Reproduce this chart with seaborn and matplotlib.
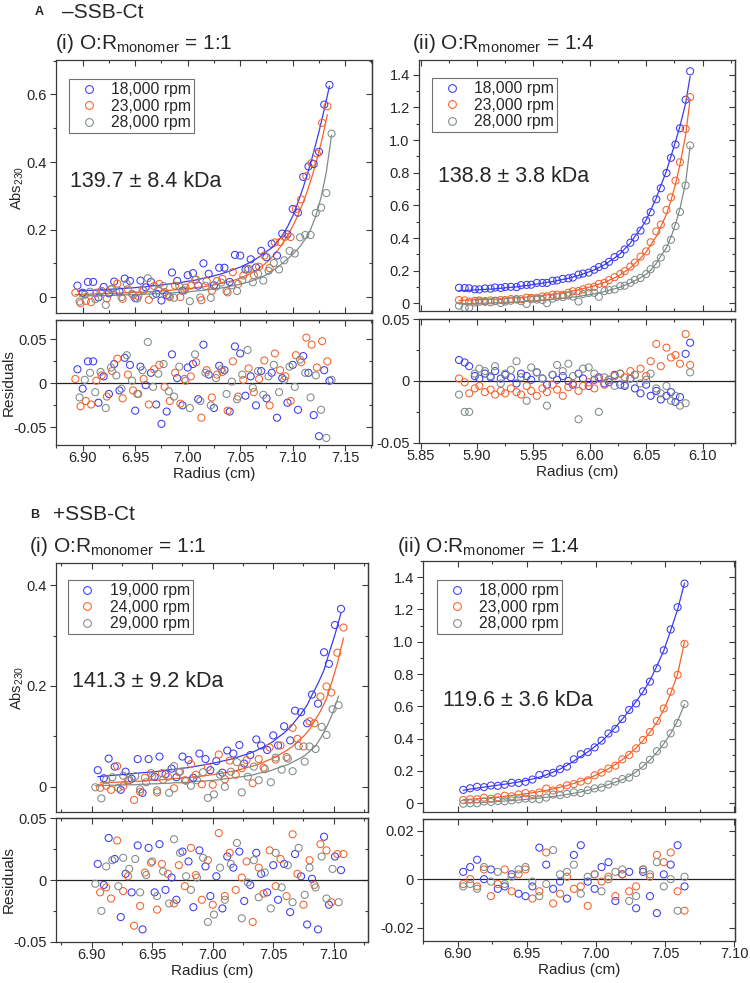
import numpy as np
import matplotlib
matplotlib.use('Agg')
import matplotlib.pyplot as plt
from matplotlib.lines import Line2D
from matplotlib.ticker import MultipleLocator
import seaborn as sns

# ---------------- data ----------------
# Panel A(i): -SSB-Ct, O:R = 1:1
a1_x_blue = [6.895, 6.900, 6.905, 6.910, 6.915, 6.920, 6.925, 6.930, 6.935, 6.940,
             6.945, 6.950, 6.955, 6.960, 6.965, 6.970, 6.975, 6.980, 6.985, 6.990,
             6.995, 7.000, 7.005, 7.010, 7.015, 7.020, 7.025, 7.030, 7.035, 7.040,
             7.045, 7.050, 7.055, 7.060, 7.065, 7.070, 7.075, 7.080, 7.085, 7.090,
             7.095, 7.100, 7.105, 7.110, 7.115, 7.120, 7.125, 7.130, 7.135]
a1_x_orange = [6.893, 6.898, 6.903, 6.908, 6.913, 6.918, 6.923, 6.928, 6.933, 6.938,
               6.943, 6.948, 6.953, 6.958, 6.963, 6.968, 6.973, 6.978, 6.983, 6.988,
               6.993, 6.998, 7.003, 7.008, 7.013, 7.018, 7.023, 7.028, 7.033, 7.038,
               7.043, 7.048, 7.053, 7.058, 7.063, 7.068, 7.073, 7.078, 7.083, 7.088,
               7.093, 7.098, 7.103, 7.108, 7.113, 7.118, 7.123, 7.128, 7.133]
a1_x_gray = [6.897, 6.902, 6.907, 6.912, 6.917, 6.922, 6.927, 6.932, 6.937, 6.942,
             6.947, 6.952, 6.957, 6.962, 6.967, 6.972, 6.977, 6.982, 6.987, 6.992,
             6.997, 7.002, 7.007, 7.012, 7.017, 7.022, 7.027, 7.032, 7.037, 7.042,
             7.047, 7.052, 7.057, 7.062, 7.067, 7.072, 7.077, 7.082, 7.087, 7.092,
             7.097, 7.102, 7.107, 7.112, 7.117, 7.122, 7.127, 7.132, 7.137]
a1_fit_blue = [0.018, 0.019, 0.020, 0.020, 0.021, 0.022, 0.023, 0.024, 0.025, 0.026,
               0.027, 0.028, 0.030, 0.031, 0.033, 0.034, 0.036, 0.038, 0.040, 0.042,
               0.044, 0.047, 0.049, 0.052, 0.056, 0.059, 0.063, 0.067, 0.072, 0.077,
               0.083, 0.089, 0.096, 0.104, 0.113, 0.123, 0.135, 0.146, 0.162, 0.182,
               0.208, 0.240, 0.280, 0.325, 0.375, 0.430, 0.490, 0.555, 0.625]
a1_fit_orange = [0.008, 0.008, 0.009, 0.009, 0.010, 0.010, 0.011, 0.011, 0.012, 0.012,
                 0.013, 0.014, 0.015, 0.015, 0.016, 0.017, 0.018, 0.019, 0.020, 0.022,
                 0.023, 0.025, 0.026, 0.028, 0.030, 0.032, 0.035, 0.038, 0.041, 0.045,
                 0.049, 0.054, 0.060, 0.067, 0.075, 0.085, 0.097, 0.111, 0.128, 0.148,
                 0.171, 0.198, 0.229, 0.265, 0.306, 0.353, 0.407, 0.468, 0.540]
a1_fit_gray = [0.003, 0.003, 0.004, 0.004, 0.004, 0.005, 0.005, 0.006, 0.006, 0.007,
               0.007, 0.008, 0.008, 0.009, 0.010, 0.010, 0.011, 0.012, 0.013, 0.014,
               0.015, 0.016, 0.018, 0.019, 0.021, 0.023, 0.025, 0.027, 0.030, 0.033,
               0.036, 0.040, 0.044, 0.049, 0.055, 0.062, 0.070, 0.080, 0.092, 0.105,
               0.118, 0.133, 0.150, 0.172, 0.200, 0.240, 0.295, 0.370, 0.480]
a1_res_blue = [0.016, -0.006, 0.025, 0.025, -0.022, 0.008, -0.012, 0.022, -0.008, 0.029,
               0.021, -0.031, 0.019, -0.002, 0.012, -0.024, -0.046, -0.032, 0.033, 0.006,
               -0.025, 0.018, 0.022, -0.018, 0.044, 0.010, -0.028, 0.020, 0.015, -0.032,
               0.042, 0.034, -0.014, 0.008, -0.025, 0.014, -0.017, 0.012, -0.039, 0.006,
               -0.022, 0.021, -0.030, 0.031, 0.012, -0.036, -0.060, 0.015, 0.003]
a1_res_orange = [0.005, -0.026, -0.020, -0.024, 0.003, 0.009, -0.015, 0.014, 0.028, -0.017,
                 0.010, -0.008, -0.012, 0.005, -0.024, 0.016, 0.021, -0.004, -0.020, 0.012,
                 -0.023, 0.003, 0.008, 0.024, -0.039, 0.015, -0.016, 0.010, 0.013, -0.031,
                 0.025, -0.015, 0.004, 0.017, -0.010, 0.005, 0.026, -0.025, 0.034, 0.015,
                 0.008, -0.020, 0.032, 0.024, 0.052, 0.044, 0.018, 0.048, 0.025]
a1_res_gray = [-0.016, 0.004, 0.012, -0.010, 0.013, -0.028, 0.018, 0.009, -0.006, 0.032,
               0.003, -0.012, 0.015, 0.047, -0.004, 0.011, 0.022, -0.009, -0.015, 0.019,
               0.005, -0.028, 0.033, -0.020, 0.012, -0.025, 0.006, 0.016, -0.012, 0.002,
               -0.018, 0.010, 0.038, -0.005, 0.014, -0.013, 0.008, 0.021, -0.010, 0.004,
               0.019, -0.004, 0.027, 0.012, -0.016, 0.009, -0.030, -0.062, 0.004]

# Panel A(ii): -SSB-Ct, O:R = 1:4
a2_x = [5.884, 5.889, 5.893, 5.898, 5.902, 5.907, 5.912, 5.916, 5.921, 5.925,
        5.930, 5.935, 5.939, 5.944, 5.948, 5.953, 5.958, 5.962, 5.967, 5.971,
        5.976, 5.981, 5.985, 5.990, 5.994, 5.999, 6.004, 6.008, 6.013, 6.017,
        6.022, 6.027, 6.031, 6.036, 6.040, 6.045, 6.050, 6.054, 6.059, 6.063,
        6.068, 6.072, 6.076, 6.080, 6.085, 6.089]
a2_fit_blue = [0.078, 0.079, 0.080, 0.082, 0.083, 0.085, 0.087, 0.089, 0.092, 0.095,
               0.098, 0.101, 0.105, 0.109, 0.113, 0.118, 0.123, 0.128, 0.133, 0.139,
               0.146, 0.153, 0.161, 0.170, 0.180, 0.192, 0.205, 0.219, 0.236, 0.255,
               0.278, 0.304, 0.334, 0.369, 0.409, 0.455, 0.510, 0.570, 0.645, 0.720,
               0.810, 0.900, 0.990, 1.085, 1.225, 1.390]
a2_fit_orange = [0.018, 0.019, 0.020, 0.021, 0.022, 0.023, 0.025, 0.026, 0.028, 0.030,
                 0.032, 0.034, 0.036, 0.039, 0.042, 0.045, 0.048, 0.052, 0.056, 0.060,
                 0.065, 0.070, 0.076, 0.083, 0.090, 0.098, 0.107, 0.117, 0.128, 0.141,
                 0.156, 0.174, 0.194, 0.217, 0.244, 0.276, 0.314, 0.358, 0.410, 0.470,
                 0.545, 0.630, 0.730, 0.850, 1.030, 1.250]
a2_fit_gray = [-0.004, -0.003, -0.002, -0.001, 0.000, 0.001, 0.002, 0.003, 0.004, 0.005,
               0.007, 0.008, 0.010, 0.012, 0.014, 0.016, 0.018, 0.021, 0.024, 0.027,
               0.030, 0.034, 0.038, 0.042, 0.047, 0.052, 0.058, 0.065, 0.072, 0.080,
               0.089, 0.099, 0.111, 0.124, 0.139, 0.157, 0.178, 0.203, 0.245, 0.290,
               0.340, 0.405, 0.485, 0.580, 0.740, 0.960]
a2_res_blue = [0.017, 0.015, 0.012, 0.004, 0.002, 0.006, 0.003, 0.008, 0.002, 0.005,
               0.003, -0.002, 0.006, 0.004, 0.001, 0.007, 0.002, -0.003, 0.005, 0.001,
               0.004, 0.000, -0.003, 0.006, 0.002, -0.004, 0.001, 0.003, -0.002, -0.001,
               0.005, -0.003, -0.004, 0.002, -0.006, -0.010, -0.003, -0.012, -0.008, -0.015,
               -0.012, -0.009, -0.017, -0.013, 0.022, 0.031]
a2_res_orange = [0.002, -0.001, -0.010, -0.006, -0.004, -0.009, -0.007, -0.011, -0.008, -0.010,
                 -0.006, -0.009, -0.011, -0.004, -0.008, -0.012, -0.006, -0.009, -0.003, -0.007,
                 -0.012, -0.005, -0.002, -0.008, -0.004, -0.001, -0.006, 0.002, -0.003, 0.001,
                 0.004, 0.006, 0.003, 0.008, 0.005, 0.010, 0.004, 0.016, 0.030, 0.012,
                 0.027, 0.019, 0.021, 0.014, 0.038, 0.013]
a2_res_gray = [-0.011, -0.025, -0.025, 0.006, 0.010, 0.008, 0.004, 0.012, -0.002, 0.006,
               0.009, 0.016, 0.003, -0.016, 0.011, 0.007, 0.002, -0.020, 0.005, 0.013,
               0.008, 0.014, 0.004, -0.031, 0.010, 0.011, 0.006, -0.025, 0.003, 0.001,
               -0.004, 0.006, -0.003, 0.002, 0.005, -0.002, 0.001, 0.006, -0.006, -0.010,
               -0.004, -0.016, -0.012, -0.020, -0.018, 0.007]

# Panel B(i): +SSB-Ct, O:R = 1:1
b1_x_blue = [6.905, 6.910, 6.914, 6.919, 6.924, 6.928, 6.933, 6.938, 6.942, 6.947,
             6.952, 6.956, 6.961, 6.966, 6.970, 6.975, 6.980, 6.984, 6.989, 6.994,
             6.998, 7.003, 7.008, 7.012, 7.017, 7.022, 7.026, 7.031, 7.036, 7.040,
             7.045, 7.050, 7.054, 7.059, 7.064, 7.068, 7.073, 7.078, 7.082, 7.087,
             7.092, 7.096, 7.101, 7.106]
b1_x_orange = [6.907, 6.912, 6.916, 6.921, 6.926, 6.930, 6.935, 6.940, 6.944, 6.949,
               6.954, 6.958, 6.963, 6.968, 6.972, 6.977, 6.982, 6.986, 6.991, 6.996,
               7.000, 7.005, 7.010, 7.014, 7.019, 7.024, 7.028, 7.033, 7.038, 7.042,
               7.047, 7.052, 7.056, 7.061, 7.066, 7.070, 7.075, 7.080, 7.084, 7.089,
               7.094, 7.098, 7.103, 7.108]
b1_x_gray = [6.903, 6.908, 6.912, 6.917, 6.922, 6.926, 6.931, 6.936, 6.940, 6.945,
             6.950, 6.954, 6.959, 6.964, 6.968, 6.973, 6.978, 6.982, 6.987, 6.992,
             6.996, 7.001, 7.006, 7.010, 7.015, 7.020, 7.024, 7.029, 7.034, 7.038,
             7.043, 7.048, 7.052, 7.057, 7.062, 7.066, 7.071, 7.076, 7.080, 7.085,
             7.090, 7.094, 7.099, 7.104]
b1_fit_blue = [0.020, 0.021, 0.022, 0.023, 0.024, 0.025, 0.026, 0.027, 0.028, 0.029,
               0.030, 0.031, 0.033, 0.034, 0.035, 0.037, 0.038, 0.040, 0.042, 0.044,
               0.046, 0.048, 0.051, 0.053, 0.056, 0.060, 0.063, 0.067, 0.072, 0.077,
               0.083, 0.090, 0.098, 0.107, 0.118, 0.130, 0.145, 0.162, 0.182, 0.205,
               0.232, 0.264, 0.302, 0.345]
b1_fit_orange = [0.008, 0.008, 0.009, 0.009, 0.010, 0.010, 0.011, 0.011, 0.012, 0.013,
                 0.013, 0.014, 0.015, 0.016, 0.017, 0.018, 0.019, 0.020, 0.021, 0.023,
                 0.024, 0.026, 0.028, 0.030, 0.032, 0.035, 0.038, 0.041, 0.045, 0.049,
                 0.054, 0.059, 0.065, 0.072, 0.080, 0.090, 0.100, 0.114, 0.130, 0.150,
                 0.175, 0.205, 0.245, 0.295]
b1_fit_gray = [0.002, 0.002, 0.003, 0.003, 0.003, 0.004, 0.004, 0.004, 0.005, 0.005,
               0.006, 0.006, 0.007, 0.007, 0.008, 0.008, 0.009, 0.010, 0.011, 0.011,
               0.012, 0.013, 0.014, 0.016, 0.017, 0.019, 0.020, 0.022, 0.024, 0.027,
               0.029, 0.032, 0.036, 0.040, 0.044, 0.049, 0.055, 0.062, 0.070, 0.081,
               0.100, 0.118, 0.145, 0.180]
b1_res_blue = [0.013, -0.004, 0.034, 0.017, -0.030, 0.005, -0.010, 0.028, -0.040, 0.026,
               -0.010, 0.029, -0.008, 0.002, -0.016, 0.023, 0.015, -0.022, 0.024, 0.011,
               -0.013, 0.003, -0.023, 0.019, 0.010, 0.023, -0.017, -0.004, 0.022, 0.005,
               -0.010, 0.012, -0.016, 0.013, -0.026, 0.021, 0.003, -0.036, 0.001, -0.040,
               0.035, -0.020, 0.019, 0.008]
b1_res_orange = [-0.010, -0.006, -0.015, 0.032, -0.009, 0.003, -0.037, -0.021, 0.006, 0.014,
                 -0.024, 0.013, 0.005, -0.019, 0.012, -0.005, 0.026, 0.004, -0.016, 0.016,
                 -0.020, 0.038, -0.013, 0.022, -0.008, 0.002, 0.015, -0.034, 0.010, -0.011,
                 0.024, -0.005, 0.017, -0.013, 0.037, 0.005, -0.020, 0.016, -0.004, 0.029,
                 0.024, -0.018, 0.021, 0.021]
b1_res_gray = [-0.003, -0.025, 0.011, 0.016, -0.005, 0.018, 0.009, 0.017, -0.010, 0.004,
               0.015, -0.013, 0.007, -0.019, 0.033, 0.022, 0.003, -0.008, 0.002, 0.018,
               -0.034, -0.028, 0.010, -0.016, 0.013, 0.030, -0.031, -0.002, 0.016, -0.014,
               0.006, -0.023, 0.022, -0.006, 0.012, -0.018, 0.026, -0.012, 0.010, -0.006,
               0.019, -0.015, 0.009, -0.018]

# Panel B(ii): +SSB-Ct, O:R = 1:4
b2_x = [6.904, 6.909, 6.914, 6.919, 6.924, 6.929, 6.934, 6.939, 6.944, 6.949,
        6.954, 6.959, 6.964, 6.969, 6.974, 6.979, 6.984, 6.989, 6.994, 6.999,
        7.004, 7.009, 7.014, 7.019, 7.024, 7.029, 7.034, 7.039, 7.044, 7.049,
        7.054, 7.059, 7.064]
b2_fit_blue = [0.080, 0.088, 0.094, 0.100, 0.106, 0.112, 0.118, 0.125, 0.132, 0.140,
               0.150, 0.162, 0.176, 0.193, 0.212, 0.235, 0.262, 0.290, 0.318, 0.350,
               0.383, 0.425, 0.470, 0.520, 0.575, 0.630, 0.690, 0.760, 0.850, 0.945,
               1.070, 1.200, 1.363]
b2_fit_orange = [0.022, 0.025, 0.028, 0.031, 0.035, 0.039, 0.043, 0.048, 0.053, 0.059,
                 0.065, 0.072, 0.080, 0.089, 0.099, 0.110, 0.123, 0.137, 0.153, 0.171,
                 0.191, 0.214, 0.240, 0.270, 0.304, 0.343, 0.388, 0.440, 0.500, 0.580,
                 0.680, 0.800, 1.000]
b2_fit_gray = [0.000, 0.002, 0.004, 0.006, 0.009, 0.011, 0.014, 0.017, 0.020, 0.024,
               0.028, 0.032, 0.037, 0.042, 0.048, 0.055, 0.062, 0.070, 0.080, 0.090,
               0.102, 0.116, 0.131, 0.146, 0.168, 0.195, 0.228, 0.268, 0.315, 0.368,
               0.433, 0.510, 0.613]
b2_res_blue = [0.003, 0.005, 0.008, 0.000, 0.004, -0.004, -0.003, 0.002, -0.006, -0.007,
               -0.003, 0.013, 0.006, -0.004, -0.001, -0.008, 0.010, 0.014, -0.001, -0.004,
               0.005, 0.007, -0.009, 0.002, 0.003, -0.012, 0.003, -0.007, -0.014, 0.002,
               0.006, 0.014, -0.003]
b2_res_orange = [-0.002, 0.000, -0.003, 0.004, -0.007, -0.002, 0.004, -0.005, 0.002, 0.004,
                 -0.008, -0.005, 0.011, -0.010, -0.006, 0.001, -0.004, -0.003, -0.011, 0.002,
                 -0.001, 0.001, -0.007, 0.002, -0.005, -0.003, 0.004, 0.001, 0.010, 0.007,
                 0.011, -0.005, -0.013]
b2_res_gray = [-0.003, -0.002, -0.004, 0.005, -0.001, 0.003, -0.002, 0.001, 0.004, 0.005,
               -0.001, -0.007, -0.002, 0.012, 0.002, 0.003, 0.006, -0.006, 0.001, 0.002,
               -0.005, 0.000, 0.003, 0.004, -0.009, -0.007, 0.004, 0.002, 0.007, -0.003,
               0.000, -0.013, 0.001]

speeds_a = ['18,000 rpm', '23,000 rpm', '28,000 rpm']
speeds_b1 = ['19,000 rpm', '24,000 rpm', '29,000 rpm']
masses = ['139.7 ± 8.4 kDa', '138.8 ± 3.8 kDa', '141.3 ± 9.2 kDa', '119.6 ± 3.6 kDa']

xt_a1 = [6.90, 6.95, 7.00, 7.05, 7.10, 7.15]
xt_a2 = [5.85, 5.90, 5.95, 6.00, 6.05, 6.10]
xt_b = [6.90, 6.95, 7.00, 7.05, 7.10]
yt_small = [0, 0.2, 0.4, 0.6]
yt_big = [0, 0.2, 0.4, 0.6, 0.8, 1.0, 1.2, 1.4]
yt_res5 = [-0.05, 0, 0.05]
yt_res2 = [-0.02, 0, 0.02]

COLORS = ['#3b3bf2', '#f4622a', '#7f8b88']

# ---------------- style ----------------
sns.set_theme(style='ticks')
plt.rcParams['font.family'] = ['Liberation Sans', 'DejaVu Sans']
plt.rcParams['mathtext.fontset'] = 'custom'
plt.rcParams['mathtext.rm'] = 'Liberation Sans'
plt.rcParams['axes.unicode_minus'] = False

W, H = 750, 983
fig = plt.figure(figsize=(7.5, 9.83), dpi=100)
FRAME = '#3a3a3a'


def px_axes(l, t, r, b):
    return fig.add_axes([l / W, 1 - b / H, (r - l) / W, (b - t) / H])


def fmt_y(v):
    return '0' if v == 0 else ('%.2f' % v if abs(v) < 0.1 else '%.1f' % v)


def style_axes(ax, xlim, ylim, xt, xminor, yt, yminor, is_res):
    ax.set_xlim(*xlim)
    ax.set_ylim(*ylim)
    for sp in ax.spines.values():
        sp.set_visible(True)
        sp.set_color(FRAME)
        sp.set_linewidth(0.9)
    ax.set_yticks(yt, labels=[fmt_y(v) for v in yt])
    ax.yaxis.set_minor_locator(MultipleLocator(yminor))
    ax.xaxis.set_minor_locator(MultipleLocator(xminor))
    ax.tick_params(axis='y', which='both', direction='out', left=True, right=False,
                   labelsize=10.5, pad=2.7, color=FRAME, width=0.8)
    ax.tick_params(which='major', length=4)
    ax.tick_params(which='minor', length=2.5)
    sec = ax.secondary_yaxis('right')
    sec.set_yticks(yt)
    sec.yaxis.set_minor_locator(MultipleLocator(yminor))
    sec.tick_params(which='both', direction='in', labelright=False, color=FRAME, width=0.8)
    sec.tick_params(which='major', length=4)
    sec.tick_params(which='minor', length=2.5)
    sec.spines['right'].set_color(FRAME)
    sec.spines['right'].set_linewidth(0.9)
    if is_res:
        ax.set_xticks(xt, labels=['%.2f' % v for v in xt])
        ax.tick_params(axis='x', which='both', direction='out', bottom=True, top=False,
                       labelsize=10.5, pad=0.5, color=FRAME, width=0.8)
        secx = ax.secondary_xaxis('top')
        secx.set_xticks(xt)
        secx.xaxis.set_minor_locator(MultipleLocator(xminor))
        secx.tick_params(which='both', direction='in', labeltop=False, color=FRAME, width=0.8)
        secx.tick_params(which='major', length=4)
        secx.tick_params(which='minor', length=2.5)
        secx.spines['top'].set_color(FRAME)
        secx.spines['top'].set_linewidth(0.9)
        ax.axhline(0, color='#222222', lw=0.9, zorder=1)
        ax.set_xlabel('Radius (cm)', fontsize=11, labelpad=1)
    else:
        ax.set_xticks(xt)
        ax.tick_params(axis='x', which='both', direction='in', bottom=True, top=True,
                       labelbottom=False, color=FRAME, width=0.8)


def draw_panel(top_box, res_box, xs, fits, resids, xlim, xt, top_ylim, top_yt, res_ylim,
               res_yt, res_minor, labels, leg_anchor, mass, mass_pos):
    ax = px_axes(*top_box)
    axr = px_axes(*res_box)
    for x, f, r, c in zip(xs, fits, resids, COLORS):
        obs = np.array(f) + np.array(r)
        sns.lineplot(x=x, y=f, ax=ax, color=c, linewidth=0.9, estimator=None,
                     sort=False, legend=False, zorder=2)
        sns.scatterplot(x=x, y=obs, ax=ax, s=26, color=c, facecolor='none',
                        edgecolor=c, linewidth=0.75, legend=False, zorder=3)
        sns.scatterplot(x=x, y=r, ax=axr, s=26, color=c, facecolor='none',
                        edgecolor=c, linewidth=0.75, legend=False, zorder=3)
    style_axes(ax, xlim, top_ylim, xt, 0.025, top_yt, 0.1, False)
    style_axes(axr, xlim, res_ylim, xt, 0.025, res_yt, res_minor, True)
    handles = [Line2D([], [], marker='o', ls='none', mfc='none', mec=c, ms=5.6, mew=0.75)
               for c in COLORS]
    leg = ax.legend(handles, labels, loc='upper left', bbox_to_anchor=leg_anchor,
                    borderaxespad=0, frameon=True, fancybox=False, framealpha=1,
                    edgecolor='#707070', fontsize=11.3, handlelength=2.1,
                    handletextpad=0.36, labelspacing=0.1, borderpad=0.2)
    leg.get_frame().set_linewidth(0.8)
    ax.text(mass_pos[0], mass_pos[1], mass, transform=ax.transAxes, fontsize=15.5,
            ha='left', va='center')
    return ax, axr


# A(i)
draw_panel((56, 60, 372, 313), (56, 320, 372, 445),
           (a1_x_blue, a1_x_orange, a1_x_gray),
           (a1_fit_blue, a1_fit_orange, a1_fit_gray),
           (a1_res_blue, a1_res_orange, a1_res_gray),
           (6.8746, 7.1755), xt_a1, (-0.047, 0.702), yt_small, (-0.070, 0.072), yt_res5, 0.025,
           speeds_a, (0.041, 0.925), masses[0], (0.044, 0.518))
# A(ii)
draw_panel((419, 60, 735, 311), (419, 319, 735, 443),
           (a2_x, a2_x, a2_x),
           (a2_fit_blue, a2_fit_orange, a2_fit_gray),
           (a2_res_blue, a2_res_orange, a2_res_gray),
           (5.8485, 6.1288), xt_a2, (-0.047, 1.49), yt_big, (-0.0502, 0.0502), yt_res5, 0.025,
           speeds_a, (0.041, 0.928), masses[1], (0.060, 0.534))
# B(i)
draw_panel((56, 563, 368, 812), (56, 818, 368, 942),
           (b1_x_blue, b1_x_orange, b1_x_gray),
           (b1_fit_blue, b1_fit_orange, b1_fit_gray),
           (b1_res_blue, b1_res_orange, b1_res_gray),
           (6.8705, 7.1283), xt_b, (-0.050, 0.444), yt_small[:3], (-0.0502, 0.0502), yt_res5, 0.025,
           speeds_b1, (0.038, 0.932), masses[2], (0.051, 0.523))
# B(ii)
draw_panel((423, 561, 735, 812), (423, 819, 735, 941),
           (b2_x, b2_x, b2_x),
           (b2_fit_blue, b2_fit_orange, b2_fit_gray),
           (b2_res_blue, b2_res_orange, b2_res_gray),
           (6.8749, 7.1005), xt_b, (-0.054, 1.50), yt_big, (-0.0255, 0.0248), yt_res2, 0.01,
           speeds_a, (0.045, 0.924), masses[3], (0.064, 0.446))

# headings and y labels
sub = 'O:R$_{\\mathregular{monomer}}$'
fig.text(35 / W, 1 - 12 / H, 'A', fontsize=9, weight='bold', ha='left', va='center')
fig.text(62 / W, 1 - 12 / H, '–SSB-Ct', fontsize=15, ha='left', va='center')
fig.text(55 / W, 1 - 49 / H, '(i) ' + sub + ' = 1:1', fontsize=15, ha='left', va='baseline')
fig.text(412 / W, 1 - 49 / H, '(ii) ' + sub + ' = 1:4', fontsize=15, ha='left', va='baseline')
fig.text(30 / W, 1 - 515 / H, 'B', fontsize=9, weight='bold', ha='left', va='center')
fig.text(53 / W, 1 - 515 / H, '+SSB-Ct', fontsize=15, ha='left', va='center')
fig.text(29 / W, 1 - 552 / H, '(i) ' + sub + ' = 1:1', fontsize=15, ha='left', va='baseline')
fig.text(397 / W, 1 - 552 / H, '(ii) ' + sub + ' = 1:4', fontsize=15, ha='left', va='baseline')

for yc in (188, 688):
    fig.text(17 / W, 1 - yc / H, 'Abs$_{\\mathregular{230}}$', fontsize=10.5, rotation=90,
             ha='center', va='center')
for yc in (383, 880):
    fig.text(8.5 / W, 1 - yc / H, 'Residuals', fontsize=11, rotation=90,
             ha='center', va='center')

fig.savefig('out.png', dpi=100)
